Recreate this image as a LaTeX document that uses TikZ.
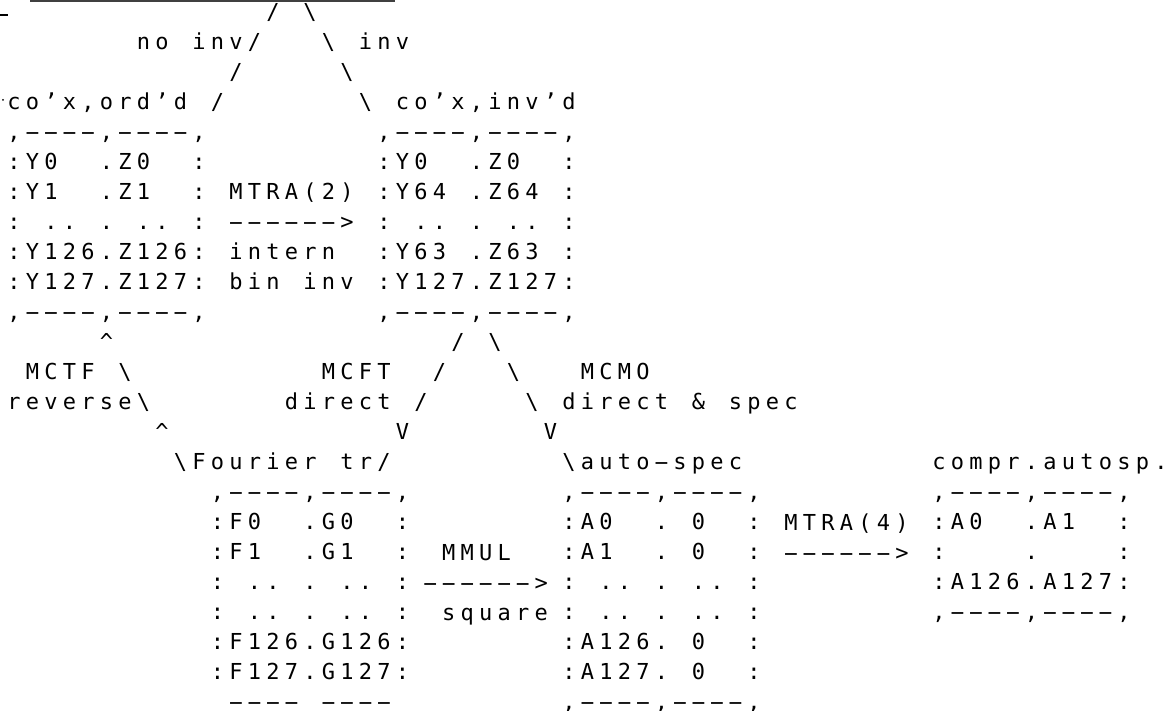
\documentclass[tikz,border=0pt]{standalone}
\usepackage{fontspec}
\usepackage{graphicx}
\newfontfamily\plotfont{DejaVu Sans Mono}
% fixed character pitch of the printout
\newdimen\cellw \cellw=18.5pt
\newcommand\bs{\textbackslash}
\newcommand\caret{\textasciicircum}
\ExplSyntaxOn
% one glyph per fixed-width cell; ~ is an empty cell; the printer's dash is long
\NewDocumentCommand\cells{m}{\tl_map_inline:nn{#1}{\makebox[\cellw][c]{\tl_if_eq:nnTF{##1}{-}{\scalebox{2.1}[1]{-}}{##1}}}}
% a stack of printed lines, 30pt apart
\NewDocumentCommand\rows{m}{\vtop{\baselineskip=30pt\lineskiplimit=-50pt\tl_map_inline:nn{#1}{\hbox{\cells{##1}}}}}
\ExplSyntaxOff
\tikzset{
  glyphs/.style={inner sep=0pt, outer sep=0pt, anchor=base west,
    font=\plotfont\fontsize{22}{30}\selectfont, text=black},
}
\begin{document}
\begin{tikzpicture}[x=18.5pt, y=-30pt]
\fill[white] (0pt,0pt) rectangle (1163pt,-711pt);
\useasboundingbox (0pt,0pt) rectangle (1163pt,-711pt);
% remains of the row above the page edge
\draw[line width=2.2pt, black!75] (30pt,-1.2pt) -- (395pt,-1.2pt);
\draw[line width=1.6pt] (0pt,-15pt) -- (8pt,-15pt);
\fill (3pt,-100pt) circle (1pt);
\begin{scope}[shift={(4.75pt,-20pt)}]
% ---- upper tree: ordering of the complex data
\node[glyphs] (forkL) at (11,0) {\rows{{~~~/}{~~/}{~/}{/}}};
\node[glyphs] (forkR) at (16,0) {\rows{{\bs}{~\bs}{~~\bs}{~~~\bs}}};
\node[glyphs] (noinv) at (7,1) {\rows{{no~inv}}};
\node[glyphs] (inv) at (19,1) {\rows{{inv}}};
\node[glyphs] (ordd) at (0,3) {\rows{{co’x,ord’d}}};
\node[glyphs] (invd) at (21,3) {\rows{{co’x,inv’d}}};
\node[glyphs] (boxY) at (0,4) {\rows{{,----,----,}{:Y0~~.Z0~~:}{:Y1~~.Z1~~:}{:~..~.~..~:}{:Y126.Z126:}{:Y127.Z127:}{,----,----,}}};
\node[glyphs] (boxYinv) at (20,4) {\rows{{,----,----,}{:Y0~~.Z0~~:}{:Y64~.Z64~:}{:~..~.~..~:}{:Y63~.Z63~:}{:Y127.Z127:}{,----,----,}}};
\node[glyphs] (mtra2) at (12,6) {\rows{{MTRA(2)}{------>}{intern}{bin~inv}}};
% ---- lower tree: transforms
\node[glyphs] (forkTF) at (5,11) {\rows{{\caret}{~\bs}{~~\bs}{~~~\caret}}};
\node[glyphs] (mctf) at (0,12) {\rows{{~MCTF}{reverse}}};
\node[glyphs] (forkFT) at (21,11) {\rows{{~~~/}{~~/}{~/}{V}}};
\node[glyphs] (forkMO) at (26,11) {\rows{{\bs}{~\bs}{~~\bs}{~~~V}}};
\node[glyphs] (mcft) at (15,12) {\rows{{~~MCFT}{direct}}};
\node[glyphs] (mcmo) at (30,12) {\rows{{~MCMO}{direct~\&~spec}}};
\node[glyphs] (fourier) at (9,15) {\rows{{\bs Fourier~tr/}}};
\node[glyphs] (autospec) at (30,15) {\rows{{\bs auto-spec}}};
\node[glyphs] (compr) at (50,15) {\rows{{compr.autosp.}}};
\node[glyphs] (boxF) at (11,16) {\rows{{,----,----,}{:F0~~.G0~~:}{:F1~~.G1~~:}{:~..~.~..~:}{:~..~.~..~:}{:F126.G126:}{:F127.G127:}{~----~----~}}};
\node[glyphs] (mmul) at (22.5,18) {\rows{{~MMUL}{------>}{~square}}};
\node[glyphs] (boxA) at (30,16) {\rows{{,----,----,}{:A0~~.~0~~:}{:A1~~.~0~~:}{:~..~.~..~:}{:~..~.~..~:}{:A126.~0~~:}{:A127.~0~~:}{,----,----,}}};
\node[glyphs] (mtra4) at (42,17) {\rows{{MTRA(4)}{------>}}};
\node[glyphs] (boxC) at (50,16) {\rows{{,----,----,}{:A0~~.A1~~:}{:~~~~.~~~~:}{:A126.A127:}{,----,----,}}};
\end{scope}
\end{tikzpicture}
\end{document}
